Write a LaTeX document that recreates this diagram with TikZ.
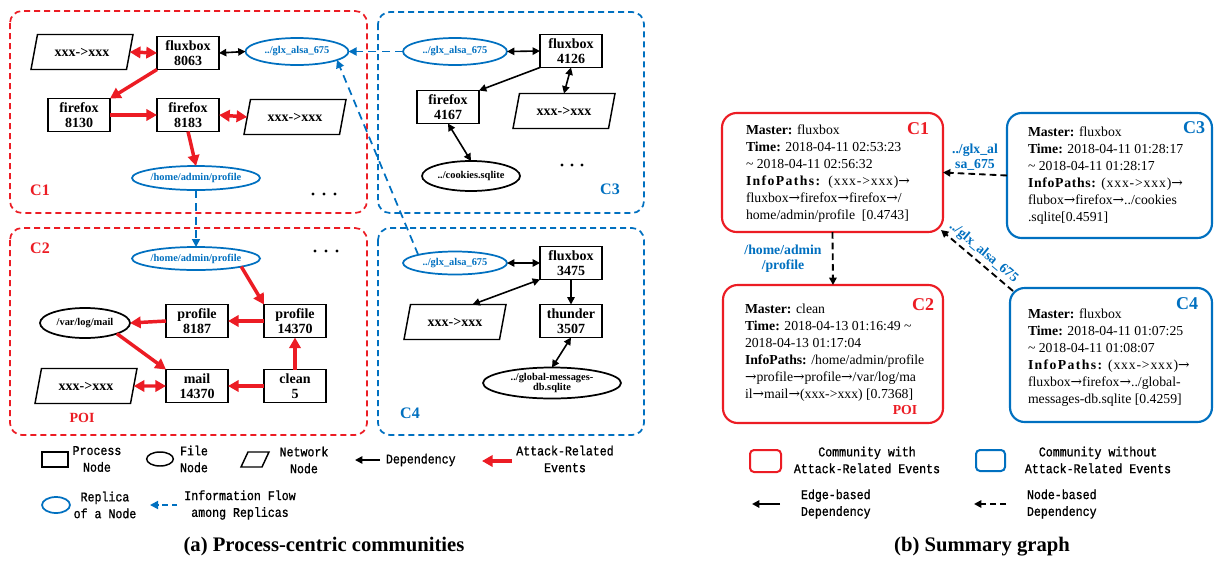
\documentclass[tikz,border=0pt]{standalone}
\usepackage{fontspec}
\setmainfont{Liberation Serif}
\setmonofont{Liberation Mono}
\newfontfamily\arrowfamily{DejaVu Serif}
\usetikzlibrary{arrows.meta,shapes.geometric,calc}
\definecolor{attackred}{RGB}{236,28,36}
\definecolor{replblue}{RGB}{0,112,192}
\newcommand\procfont{\bfseries\fontsize{10.5}{11.25}\selectfont}
\newcommand\filefont{\bfseries\fontsize{7.8}{8}\selectfont}
\newcommand\commfont{\bfseries\fontsize{12}{14}\selectfont}
\newcommand\legfont{\ttfamily\fontsize{10}{12.6}\selectfont\addfontfeature{FakeStretch=0.87,FakeBold=1}}
\newcommand\capfont{\bfseries\fontsize{15.5}{18}\selectfont}
\newcommand\sumfont{\fontsize{10.3}{12.75}\selectfont}
\newcommand\sumlabelfont{\bfseries\fontsize{13.5}{15}\selectfont}
\newcommand\edgelabelfont{\bfseries\fontsize{10.3}{11.25}\selectfont}
\newcommand\spacedout[2]{{\addfontfeature{LetterSpace=#1}#2}}
\newcommand\ra{{\arrowfamily\mdseries →}}

\begin{document}
\begin{tikzpicture}[x=0.75pt,y=-0.75pt,
  every node/.style={inner sep=0pt,outer sep=0pt},
  procbox/.style={draw,line width=1.3pt,minimum width=46.5pt,minimum height=24.75pt,align=center,font=\procfont},
  netbox/.style={draw,line width=1.1pt,trapezium,trapezium left angle=64,trapezium right angle=116,
    trapezium stretches=true,minimum width=76.5pt,minimum height=26.25pt,font=\procfont},
  filebox/.style={draw,ellipse,line width=1.3pt,align=center,font=\filefont},
  replicabox/.style={filebox,draw=replblue,text=replblue},
  community/.style={line width=1.3pt,dash pattern=on 4.5pt off 3pt,rounded corners=9pt},
  attack/.style={draw=attackred,line width=2.6pt,>={Triangle[length=8pt,width=8.5pt]}},
  depend/.style={draw=black,line width=1.2pt,>={Triangle[length=5.5pt,width=5.5pt]}},
  infoflow/.style={draw=replblue,line width=1.3pt,dash pattern=on 6pt off 4pt,>={Triangle[length=6pt,width=6pt]}},
  sumbox/.style={draw,line width=1.6pt,rounded corners=11pt},
  sumtext/.style={anchor=base west,align=left,font=\sumfont},
  edgedep/.style={draw=black,line width=1.4pt,>={Triangle[length=5.5pt,width=5.5pt]}},
  nodedep/.style={draw=black,line width=1.4pt,dash pattern=on 5pt off 3pt,>={Triangle[length=5.5pt,width=5.5pt]}},
  legtext/.style={font=\legfont,align=center},
  dot/.style={fill=black}
]
\path[use as bounding box,fill=white] (0,0) rectangle (1214,561);

% ---------------- (a) process-centric communities ----------------
% community frames
\draw[community,attackred] (10,11) rectangle (367,213);
\draw[community,replblue] (378,12) rectangle (644,213);
\draw[community,attackred] (10,228) rectangle (367,435);
\draw[community,replblue] (378,228) rectangle (644,435);

% C1
\node[netbox] (n1) at (82,52) {xxx->xxx};
\node[procbox] (p8063) at (188,53) {fluxbox\\8063};
\node[replicabox,minimum width=77.25pt,minimum height=20.25pt] (r1) at (297,51.5) {../glx\_alsa\_675};
\node[procbox] (p8130) at (79,115) {firefox\\8130};
\node[procbox] (p8183) at (188,115) {firefox\\8183};
\node[netbox] (n2) at (295,117) {xxx->xxx};
\node[replicabox,minimum width=93.75pt,minimum height=18pt] (h1) at (196,178) {/home/admin/profile};
\node[font=\commfont,text=attackred] (c1) at (40,190) {C1};
\foreach \x in {313,324,335} \fill[dot] (\x,194) circle[radius=1.2pt];

\draw[attack,<->] (n1.east) -- (p8063.west);
\draw[depend,<->] (p8063.east) -- (r1.west);
\draw[attack,->] (p8063.south west) -- (p8130.north east);
\draw[attack,->] (p8130.east) -- (p8183.west);
\draw[attack,<->] (p8183.east) -- (n2.west);
\draw[attack,->] (p8183.south) -- (h1.north);

% C3
\node[replicabox,minimum width=78pt,minimum height=20.25pt] (r3) at (455,51.5) {../glx\_alsa\_675};
\node[procbox] (p4126) at (571,51) {fluxbox\\4126};
\node[procbox] (p4167) at (448,107) {firefox\\4167};
\node[netbox] (n3) at (564,111) {xxx->xxx};
\node[filebox,minimum width=73.5pt,minimum height=22.5pt] (ck) at (471,176) {../cookies.sqlite};
\node[font=\commfont,text=replblue] (c3) at (610,189) {C3};
\foreach \x in {562,572,582} \fill[dot] (\x,165) circle[radius=1.2pt];

\draw[depend,<->] (r3.east) -- (p4126.west);
\draw[depend,->] (p4126.south west) -- (p4167.north east);
\draw[depend,<->] (p4126.south) -- (n3.north);
\draw[depend,<->] (p4167.south) -- (ck.north);

% C2
\node[replicabox,minimum width=93.75pt,minimum height=17.25pt] (h2) at (196,258.5) {/home/admin/profile};
\node[procbox] (p8187) at (197,321) {profile\\8187};
\node[procbox] (p14370) at (295,321) {profile\\14370};
\node[filebox,minimum width=67.5pt,minimum height=22.5pt] (vl) at (85,323) {/var/log/mail};
\node[procbox] (m14370) at (197,386) {mail\\14370};
\node[procbox] (c5) at (295,386) {clean\\5};
\node[netbox] (n4) at (86,386) {xxx->xxx};
\node[font=\commfont,text=attackred] (c2) at (40,248) {C2};
\node[font=\procfont,text=attackred] (poi1) at (82,418) {POI};
\foreach \x in {315,326,337} \fill[dot] (\x,251) circle[radius=1.2pt];

\draw[infoflow,->] (h1.south) -- (h2.north);
\draw[attack,->] (h2.south east) -- (p14370.north west);
\draw[attack,->] (p14370.west) -- (p8187.east);
\draw[attack,->] (p8187.west) -- (vl.east);
\draw[attack,->] (vl.south east) -- (m14370.north west);
\draw[attack,->] (c5.west) -- (m14370.east);
\draw[attack,->] (c5.north) -- (p14370.south);
\draw[attack,<->] (m14370.west) -- (n4.east);

% C4
\node[replicabox,minimum width=78pt,minimum height=17.25pt] (r4) at (455,263) {../glx\_alsa\_675};
\node[procbox] (p3475) at (571,263) {fluxbox\\3475};
\node[procbox] (t3507) at (571,321) {thunder\\3507};
\node[netbox] (n5) at (455,322) {xxx->xxx};
\node[filebox,minimum width=103.5pt,minimum height=23.25pt] (gm) at (552,383) {../global-messages-\\db.sqlite};
\node[font=\commfont,text=replblue] (c4) at (410,413) {C4};

\draw[depend,<->] (r4.east) -- (p3475.west);
\draw[depend,<->] (p3475.south west) -- (n5.north east);
\draw[depend,->] (p3475.south) -- (t3507.north);
\draw[depend,<->] (t3507.south) -- (gm.north);

% information flow among replicas
\draw[infoflow,->] (r3.west) -- (r1.east);
\draw[infoflow,->] (r4.north west) -- (r1.-12);

% legend (a)
\node[draw,line width=1.1pt,minimum width=19.5pt,minimum height=11.25pt] (lgproc) at (55,459.5) {};
\node[legtext] (lgproct) at (97,459) {Process\\Node};
\node[draw,ellipse,line width=1.1pt,minimum width=20pt,minimum height=10.5pt] (lgfile) at (160,459) {};
\node[legtext] (lgfilet) at (194,459) {File\\Node};
\node[draw,line width=1.1pt,trapezium,trapezium left angle=62,trapezium right angle=118,trapezium stretches=true,
  inner sep=1pt,minimum width=21pt,minimum height=11.25pt] (lgnet) at (255,459.5) {\phantom{x}};
\node[legtext] (lgnett) at (304,460) {Network\\Node};
\coordinate (lgdepa) at (380,460);
\coordinate (lgdepb) at (355,460);
\draw[depend,->] (lgdepa) -- (lgdepb);
\node[legtext,anchor=west] (lgdept) at (386,460) {Dependency};
\coordinate (lgatka) at (512,461);
\coordinate (lgatkb) at (482,461);
\draw[attack,->] (lgatka) -- (lgatkb);
\node[legtext] (lgatkt) at (565,459) {Attack-Related\\Events};
\node[draw=replblue,ellipse,line width=1.3pt,minimum width=21pt,minimum height=12pt] (lgrep) at (56,505) {};
\node[legtext] (lgrept) at (105,505) {Replica\\of a Node};
\coordinate (lgflowa) at (177,505);
\coordinate (lgflowb) at (150,505);
\draw[infoflow,dash pattern=on 4pt off 3pt,->] (lgflowa) -- (lgflowb);
\node[legtext] (lgflowt) at (240,505) {Information Flow\\among Replicas};

\node[font=\capfont] (capa) at (324,547) {(a) Process-centric communities};

% ---------------- (b) summary graph ----------------
\node[sumbox,draw=attackred,minimum width=165.75pt,minimum height=89.25pt] (b1) at (832.5,172.5) {};
\node[sumbox,draw=replblue,minimum width=153.75pt,minimum height=93.75pt] (b3) at (1109.5,175.5) {};
\node[sumbox,draw=attackred,minimum width=165pt,minimum height=103.5pt] (b2) at (833,354) {};
\node[sumbox,draw=replblue,minimum width=151.5pt,minimum height=100.5pt] (b4) at (1111,355) {};

% summary texts, anchored at the baseline of their last line
\node[sumtext] (t1) at (746,219) {\textbf{Master:} fluxbox\\
  \textbf{Time:} 2018-04-11 02:53:23\\
  \textasciitilde{} 2018-04-11 02:56:32\\
  \textbf{\spacedout{10}{InfoPaths:}}\ \ \spacedout{6}{(xxx->xxx)}\ra\\
  fluxbox\ra firefox\ra firefox\ra/\\
  home/admin/profile\ \ [0.4743]};
\node[sumtext] (t3) at (1028,221.5) {\textbf{Master:} fluxbox\\
  \textbf{Time:} 2018-04-11 01:28:17\\
  \textasciitilde{} 2018-04-11 01:28:17\\
  \textbf{\spacedout{5}{InfoPaths:}} \spacedout{6}{(xxx->xxx)}\ra\\
  flubox\ra firefox\ra../cookies\\
  .sqlite[0.4591]};
\node[sumtext] (t2) at (745,398) {\textbf{Master:} clean\\
  \textbf{Time:} 2018-04-13 01:16:49 \textasciitilde\\
  2018-04-13 01:17:04\\
  \textbf{InfoPaths:} /home/admin/profile\\
  \ra profile\ra profile\ra/var/log/ma\\
  il\ra mail\ra(xxx->xxx) [0.7368]};
\node[sumtext] (t4) at (1028,403.5) {\textbf{Master:} fluxbox\\
  \textbf{Time:} 2018-04-11 01:07:25\\
  \textasciitilde{} 2018-04-11 01:08:07\\
  \textbf{\spacedout{10}{InfoPaths:}} \spacedout{6}{(xxx->xxx)}\ra\\
  fluxbox\ra firefox\ra../global-\\
  messages-db.sqlite [0.4259]};

\node[font=\sumlabelfont,text=attackred] (lb1) at (918,129) {C1};
\node[font=\sumlabelfont,text=replblue] (lb3) at (1194,128) {C3};
\node[font=\sumlabelfont,text=attackred] (lb2) at (923,305) {C2};
\node[font=\sumlabelfont,text=replblue] (lb4) at (1187,304) {C4};
\node[font=\edgelabelfont,text=attackred] (poi2) at (905,410) {POI};

\draw[nodedep,->] (b3.west) -- (b1.east);
\node[font=\edgelabelfont,text=replblue,align=center] (e31) at (975,157) {../glx\_al\\sa\_675};
\draw[nodedep,->] ($(b4.north west)+(3,3)$) -- node[sloped,above=3pt,font=\edgelabelfont,text=replblue] (e41) {../glx\_alsa\_675} ($(b1.south east)+(-2,-2)$);
\draw[nodedep,->] (b1.south) -- (b2.north);
\node[font=\edgelabelfont,text=replblue,align=center] (e12) at (783,259) {/home/admin\\/profile};

% legend (b)
\node[draw=attackred,line width=1.5pt,rounded corners=3pt,minimum width=23.25pt,minimum height=16.5pt] (lgwith) at (765.5,461) {};
\node[legtext] (lgwitht) at (867,460) {Community with\\Attack-Related Events};
\node[draw=replblue,line width=1.5pt,rounded corners=3pt,minimum width=21.75pt,minimum height=15.75pt] (lgwithout) at (990.5,460.5) {};
\node[legtext] (lgwithoutt) at (1098,460) {Community without\\Attack-Related Events};
\coordinate (lgedgea) at (780,504);
\coordinate (lgedgeb) at (752,504);
\draw[edgedep,->] (lgedgea) -- (lgedgeb);
\node[legtext,align=left,anchor=west] (lgedget) at (801,504) {Edge-based\\Dependency};
\coordinate (lgnodea) at (1006,504);
\coordinate (lgnodeb) at (974,504);
\draw[nodedep,dash pattern=on 4.5pt off 3pt,->] (lgnodea) -- (lgnodeb);
\node[legtext,align=left,anchor=west] (lgnodet) at (1027,504) {Node-based\\Dependency};

\node[font=\capfont] (capb) at (982,547) {(b) Summary graph};
\end{tikzpicture}
\end{document}
